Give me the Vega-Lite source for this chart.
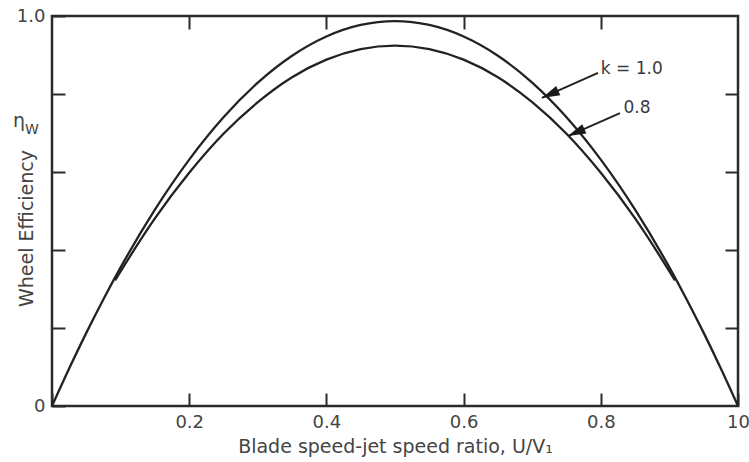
{
  "$schema": "https://vega.github.io/schema/vega-lite/v6.json",
  "width": 686,
  "height": 390,
  "autosize": "none",
  "padding": {"left": 52, "top": 16, "right": 11, "bottom": 56},
  "background": "white",
  "config": {
    "font": "DejaVu Sans",
    "view": {"stroke": "#2b2b2b", "strokeWidth": 2.5},
    "axis": {
      "grid": false,
      "domain": false,
      "tickColor": "#2b2b2b",
      "tickWidth": 2,
      "tickSize": -13,
      "labelFont": "DejaVu Sans",
      "labelFontSize": 18,
      "labelColor": "#444444",
      "titleFont": "DejaVu Sans",
      "titleFontSize": 19,
      "titleFontWeight": "normal",
      "titleColor": "#444444"
    }
  },
  "datasets": {
    "curves": [
      {"series": "k=1.0", "x": 0, "y": 0},
      {"series": "k=1.0", "x": 0.025, "y": 0.0962},
      {"series": "k=1.0", "x": 0.05, "y": 0.1875},
      {"series": "k=1.0", "x": 0.075, "y": 0.2739},
      {"series": "k=1.0", "x": 0.1, "y": 0.3553},
      {"series": "k=1.0", "x": 0.15, "y": 0.5034},
      {"series": "k=1.0", "x": 0.2, "y": 0.6317},
      {"series": "k=1.0", "x": 0.25, "y": 0.7403},
      {"series": "k=1.0", "x": 0.3, "y": 0.8291},
      {"series": "k=1.0", "x": 0.35, "y": 0.8982},
      {"series": "k=1.0", "x": 0.4, "y": 0.9475},
      {"series": "k=1.0", "x": 0.45, "y": 0.9771},
      {"series": "k=1.0", "x": 0.5, "y": 0.987},
      {"series": "k=1.0", "x": 0.55, "y": 0.9771},
      {"series": "k=1.0", "x": 0.6, "y": 0.9475},
      {"series": "k=1.0", "x": 0.65, "y": 0.8982},
      {"series": "k=1.0", "x": 0.7, "y": 0.8291},
      {"series": "k=1.0", "x": 0.75, "y": 0.7403},
      {"series": "k=1.0", "x": 0.8, "y": 0.6317},
      {"series": "k=1.0", "x": 0.85, "y": 0.5034},
      {"series": "k=1.0", "x": 0.9, "y": 0.3553},
      {"series": "k=1.0", "x": 0.925, "y": 0.2739},
      {"series": "k=1.0", "x": 0.95, "y": 0.1875},
      {"series": "k=1.0", "x": 0.975, "y": 0.0962},
      {"series": "k=1.0", "x": 1, "y": 0},
      {"series": "k=0.8", "x": 0.092, "y": 0.322},
      {"series": "k=0.8", "x": 0.1, "y": 0.345},
      {"series": "k=0.8", "x": 0.15, "y": 0.481},
      {"series": "k=0.8", "x": 0.2, "y": 0.598},
      {"series": "k=0.8", "x": 0.25, "y": 0.698},
      {"series": "k=0.8", "x": 0.3, "y": 0.779},
      {"series": "k=0.8", "x": 0.35, "y": 0.843},
      {"series": "k=0.8", "x": 0.4, "y": 0.888},
      {"series": "k=0.8", "x": 0.45, "y": 0.915},
      {"series": "k=0.8", "x": 0.5, "y": 0.924},
      {"series": "k=0.8", "x": 0.55, "y": 0.915},
      {"series": "k=0.8", "x": 0.6, "y": 0.888},
      {"series": "k=0.8", "x": 0.65, "y": 0.843},
      {"series": "k=0.8", "x": 0.7, "y": 0.779},
      {"series": "k=0.8", "x": 0.75, "y": 0.698},
      {"series": "k=0.8", "x": 0.8, "y": 0.598},
      {"series": "k=0.8", "x": 0.85, "y": 0.481},
      {"series": "k=0.8", "x": 0.9, "y": 0.345},
      {"series": "k=0.8", "x": 0.908, "y": 0.322}
    ],
    "arrows": [
      {"name": "k=1.0", "x": 0.796, "y": 0.854, "tx": 0.714, "ty": 0.79},
      {"name": "k=0.8", "x": 0.828, "y": 0.751, "tx": 0.752, "ty": 0.692}
    ],
    "notes": [
      {"label": "k = 1.0", "x": 0.8, "y": 0.864},
      {"label": "0.8", "x": 0.833, "y": 0.764}
    ],
    "symbol": [
      {"label": "η", "x": -0.0569, "y": 0.715}
    ],
    "sub": [
      {"label": "W", "x": -0.0394, "y": 0.697}
    ]
  },
  "resolve": {"axis": {"x": "independent", "y": "independent"}},
  "layer": [
    {
      "data": {"name": "curves"},
      "transform": [{"filter": "datum.series == 'k=1.0'"}],
      "mark": {"type": "line", "color": "#222222", "strokeWidth": 2.3, "interpolate": "monotone"},
      "encoding": {
        "x": {
          "field": "x", "type": "quantitative",
          "scale": {"domain": [0, 1], "nice": false, "zero": false},
          "axis": {
            "orient": "bottom",
            "values": [0, 0.2, 0.4, 0.6, 0.8, 1],
            "labelExpr": "datum.value == 0 ? '' : datum.value == 1 ? '10' : format(datum.value, '.1f')",
            "labelPadding": 20,
            "labelFlush": false,
            "title": "Blade speed-jet speed ratio, U/V₁",
            "titlePadding": 6
          }
        },
        "y": {
          "field": "y", "type": "quantitative",
          "scale": {"domain": [0, 1], "nice": false, "zero": false},
          "axis": {
            "orient": "left",
            "values": [0, 0.2, 0.4, 0.6, 0.8, 1],
            "labelExpr": "datum.value == 0 ? '0' : datum.value == 1 ? '1.0' : ''",
            "labelPadding": 20,
            "title": "Wheel Efficiency",
            "titleX": -20,
            "titleY": 212,
            "titleBaseline": "alphabetic"
          }
        }
      }
    },
    {
      "data": {"name": "curves"},
      "transform": [{"filter": "datum.series == 'k=0.8'"}],
      "mark": {"type": "line", "color": "#222222", "strokeWidth": 2.3, "interpolate": "monotone"},
      "encoding": {
        "x": {
          "field": "x", "type": "quantitative",
          "axis": {"orient": "top", "values": [0.2, 0.4, 0.6, 0.8], "labels": false, "title": null}
        },
        "y": {
          "field": "y", "type": "quantitative",
          "axis": {"orient": "right", "values": [0.2, 0.4, 0.6, 0.8], "labels": false, "title": null}
        }
      }
    },
    {
      "data": {"name": "arrows"},
      "mark": {"type": "rule", "color": "#222222", "strokeWidth": 2},
      "encoding": {
        "x": {"field": "x", "type": "quantitative", "axis": null},
        "y": {"field": "y", "type": "quantitative", "axis": null},
        "x2": {"field": "tx"},
        "y2": {"field": "ty"}
      }
    },
    {
      "data": {"name": "arrows"},
      "mark": {"type": "point", "shape": "M0,0L0.28,1L-0.28,1Z", "size": 1296, "angle": 246, "filled": true, "color": "#1a1a1a", "opacity": 1},
      "encoding": {
        "x": {"field": "tx", "type": "quantitative", "axis": null},
        "y": {"field": "ty", "type": "quantitative", "axis": null}
      }
    },
    {
      "data": {"name": "notes"},
      "mark": {"type": "text", "align": "left", "baseline": "middle", "fontSize": 17, "color": "#3a3a3a"},
      "encoding": {
        "x": {"field": "x", "type": "quantitative", "axis": null},
        "y": {"field": "y", "type": "quantitative", "axis": null},
        "text": {"field": "label"}
      }
    },
    {
      "data": {"name": "symbol"},
      "mark": {"type": "text", "align": "left", "baseline": "alphabetic", "fontSize": 19, "color": "#444444"},
      "encoding": {
        "x": {"field": "x", "type": "quantitative", "axis": null},
        "y": {"field": "y", "type": "quantitative", "axis": null},
        "text": {"field": "label"}
      }
    },
    {
      "data": {"name": "sub"},
      "mark": {"type": "text", "align": "left", "baseline": "alphabetic", "fontSize": 14, "color": "#444444"},
      "encoding": {
        "x": {"field": "x", "type": "quantitative", "axis": null},
        "y": {"field": "y", "type": "quantitative", "axis": null},
        "text": {"field": "label"}
      }
    }
  ]
}
